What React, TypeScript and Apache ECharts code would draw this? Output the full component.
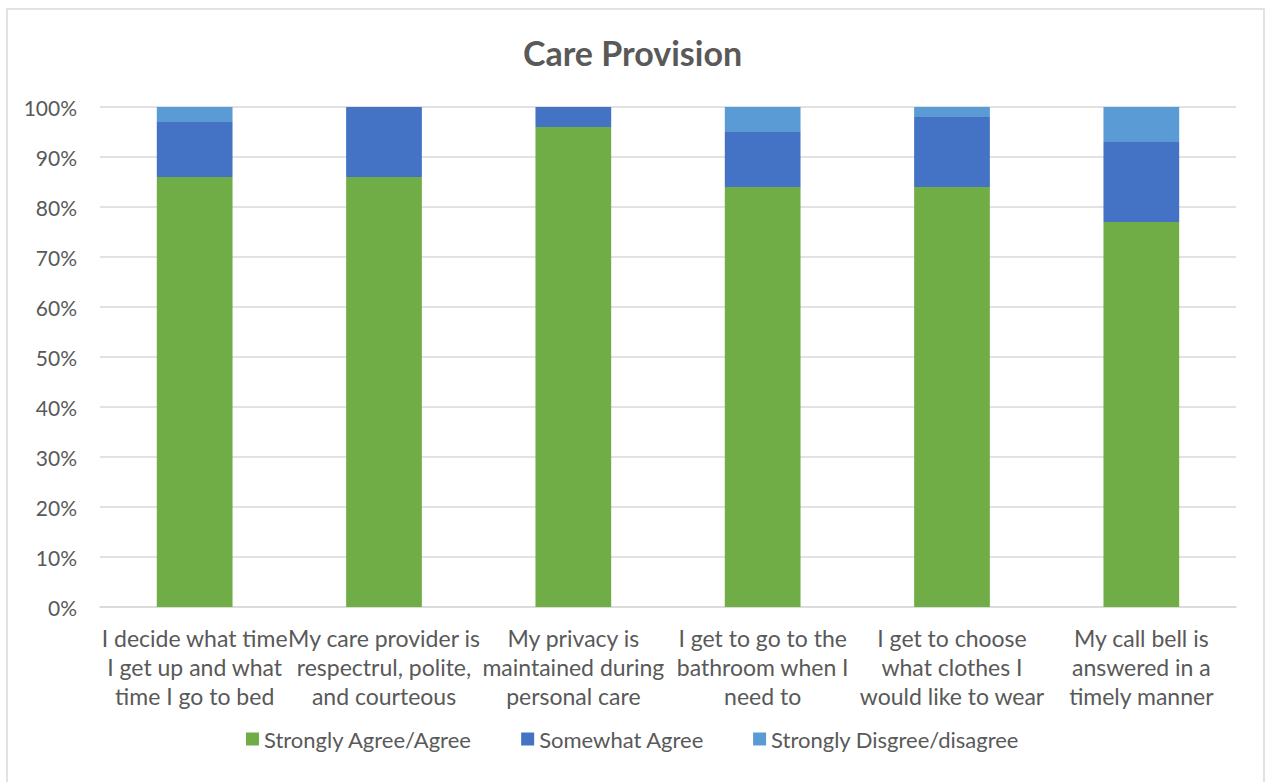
import React, { useEffect, useRef } from "react";
import * as echarts from "echarts";

const categories = [
  "I decide what time\nI get up and what\ntime I go to bed",
  "My care provider is\nrespectrul, polite,\nand courteous",
  "My privacy is\nmaintained during\npersonal care",
  "I get to go to the\nbathroom when I\nneed to",
  "I get to choose\nwhat clothes I\nwould like to wear",
  "My call bell is\nanswered in a\ntimely manner",
];
const seriesNames = ["Strongly Agree/Agree", "Somewhat Agree", "Strongly Disgree/disagree"];
const agree = [86, 86, 96, 84, 84, 77];
const somewhat = [11, 14, 4, 11, 14, 16];
const disagree = [3, 0, 0, 5, 2, 7];
const colors = ["#70AD47", "#4472C4", "#5B9BD5"];

const FONT = "Lato, 'Open Sans', sans-serif";

export default function App() {
  const ref = useRef<HTMLDivElement>(null);
  useEffect(() => {
    if (!ref.current) return;
    const chart = echarts.init(ref.current, undefined, { renderer: "svg" });
    const data = [agree, somewhat, disagree];
    chart.setOption({
      animation: false,
      textStyle: { fontFamily: FONT, color: "#595959" },
      graphic: [
        {
          type: "rect",
          shape: { x: 7, y: 9, width: 1257, height: 790 },
          style: { fill: "none", stroke: "#D9D9D9", lineWidth: 1.5 },
          silent: true,
        },
      ],
      title: {
        text: "Care Provision",
        left: "center",
        top: 30,
        textStyle: { fontFamily: FONT, fontSize: 34, fontWeight: "bold", color: "#595959" },
      },
      grid: { left: 100, right: 29, top: 107, bottom: 175, containLabel: false },
      legend: {
        bottom: 27,
        left: "center",
        itemWidth: 13,
        itemHeight: 13,
        itemGap: 49,
        icon: "rect",
        textStyle: { fontFamily: FONT, fontSize: 22, color: "#595959" },
        data: seriesNames,
      },
      xAxis: {
        type: "category",
        data: categories,
        axisLine: { lineStyle: { color: "#D9D9D9", width: 1.5 } },
        axisTick: { show: false },
        axisLabel: {
          interval: 0,
          fontFamily: FONT,
          fontSize: 23,
          lineHeight: 29,
          color: "#595959",
          margin: 16,
        },
      },
      yAxis: {
        type: "value",
        min: 0,
        max: 100,
        interval: 10,
        axisLine: { show: false },
        axisTick: { show: false },
        splitLine: { lineStyle: { color: "#D9D9D9", width: 1.5 } },
        axisLabel: {
          formatter: "{value}%",
          fontFamily: FONT,
          fontSize: 21,
          color: "#595959",
          margin: 23,
        },
      },
      series: seriesNames.map((name, i) => ({
        name,
        type: "bar",
        stack: "total",
        barCategoryGap: "60%",
        data: data[i],
        itemStyle: { color: colors[i] },
      })),
    });
    return () => chart.dispose();
  }, []);
  return (
    <div
      ref={ref}
      style={{ position: "fixed", left: 0, top: 0, width: 1265, height: 782, background: "#fff" }}
    />
  );
}
